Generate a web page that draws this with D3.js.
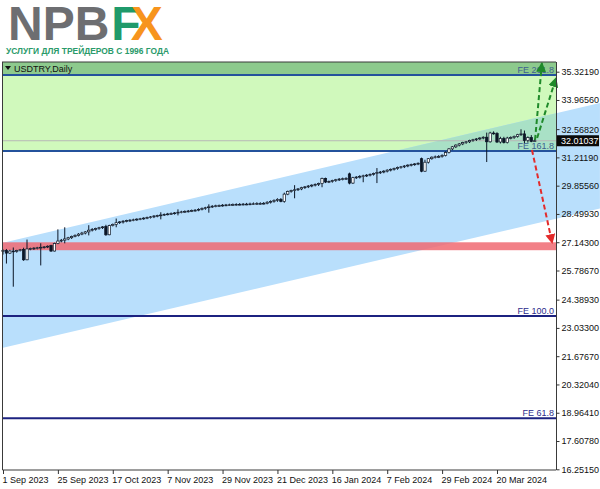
<!DOCTYPE html>
<html>
<head>
<meta charset="utf-8">
<script src="https://cdn.jsdelivr.net/npm/d3@7"></script>
<style>
  body { margin: 0; background: #fff; }
  svg { display: block; font-family: "Liberation Sans", Arial, sans-serif; }
</style>
</head>
<body>
<div id="chart"></div>
<script>
// daily bars [open, high, low, close], USDTRY, 1 Sep 2023 onwards
const bars = [
  [26.70,26.80,26.55,26.75],[26.75,26.82,26.12,26.62],[26.62,26.78,26.58,26.72],[26.72,26.89,25.01,26.70],
  [26.70,26.78,26.64,26.74],[26.74,26.82,26.70,26.78],[26.80,26.88,26.25,26.30],[26.30,27.27,26.28,26.82],
  [26.82,26.88,26.76,26.84],[26.84,26.90,26.78,26.86],[26.86,26.92,26.80,26.88],[26.88,27.09,26.03,26.90],
  [26.90,26.96,26.84,26.92],[26.92,26.99,26.86,26.95],[26.99,27.02,26.68,26.72],[26.72,27.12,26.70,27.08],
  [27.08,27.76,27.05,27.20],[27.20,27.30,27.14,27.24],[27.24,27.86,27.09,27.30],[27.30,27.40,27.24,27.36],
  [27.36,27.46,27.30,27.42],[27.42,27.52,27.38,27.47],[27.47,27.58,27.42,27.53],[27.53,27.64,27.48,27.58],
  [27.58,27.68,27.52,27.64],[27.64,27.96,27.47,27.72],[27.72,27.82,27.66,27.76],[27.76,27.84,27.70,27.80],
  [27.80,27.88,27.74,27.84],[27.84,27.92,27.78,27.88],[27.90,27.98,27.45,27.50],[27.50,27.98,27.48,27.94],
  [27.94,28.04,27.90,28.00],[28.00,28.28,27.86,28.08],[28.08,28.16,28.02,28.12],[28.12,28.20,28.04,28.15],
  [28.15,28.22,28.10,28.18],[28.18,28.25,28.12,28.20],[28.20,28.27,28.15,28.22],[28.22,28.29,28.17,28.25],
  [28.25,28.31,28.20,28.27],[28.27,28.34,28.22,28.30],[28.30,28.37,28.25,28.33],[28.33,28.40,28.28,28.36],
  [28.36,28.44,28.30,28.40],[28.40,28.46,28.34,28.42],[28.42,28.58,28.24,28.45],[28.45,28.52,28.40,28.48],
  [28.48,28.55,28.43,28.50],[28.50,28.57,28.45,28.52],[28.52,28.59,28.47,28.55],[28.55,28.72,28.43,28.58],
  [28.58,28.65,28.53,28.60],[28.60,28.67,28.55,28.62],[28.62,28.69,28.57,28.64],[28.64,28.71,28.59,28.66],
  [28.66,28.73,28.61,28.68],[28.68,28.77,28.63,28.72],[28.72,28.81,28.67,28.76],[28.76,28.84,28.70,28.80],
  [28.80,28.96,28.56,28.84],[28.84,28.92,28.79,28.87],[28.87,28.94,28.82,28.89],[28.89,28.95,28.84,28.90],
  [28.90,28.97,28.85,28.92],[28.92,28.98,28.87,28.93],[28.93,28.99,28.88,28.94],[28.94,29.00,28.89,28.95],
  [28.95,29.01,28.90,28.96],[28.96,29.02,28.91,28.96],[28.96,29.02,28.91,28.97],[28.97,29.03,28.92,28.97],
  [28.97,29.04,28.92,28.98],[28.98,29.05,28.93,28.99],[28.99,29.06,28.94,29.00],[29.00,29.06,28.95,29.00],
  [29.00,29.07,28.95,29.01],[29.01,29.11,28.96,29.06],[29.06,29.15,29.00,29.10],[29.10,29.20,29.04,29.15],
  [29.15,29.25,29.08,29.20],[29.20,29.26,29.06,29.10],[29.10,29.52,29.04,29.45],[29.45,29.62,29.40,29.58],
  [29.58,29.66,29.52,29.62],[29.62,29.88,29.25,29.66],[29.66,29.74,29.60,29.70],[29.70,29.80,29.64,29.76],
  [29.76,29.84,29.70,29.80],[29.80,29.88,29.74,29.84],[29.84,29.92,29.78,29.88],[29.88,29.96,29.82,29.92],
  [29.92,30.00,29.84,29.96],[29.96,30.24,29.78,30.20],[30.20,30.24,29.98,30.03],[30.03,30.10,29.98,30.06],
  [30.06,30.14,30.00,30.10],[30.10,30.18,30.04,30.14],[30.14,30.22,30.08,30.17],[30.17,30.24,30.11,30.19],
  [30.19,30.26,30.13,30.20],[30.42,30.48,29.92,29.98],[29.98,30.28,29.94,30.24],[30.24,30.31,30.18,30.27],
  [30.27,30.36,30.20,30.30],[30.30,30.38,30.02,30.33],[30.33,30.41,30.27,30.36],[30.36,30.44,30.30,30.40],
  [30.40,30.48,30.34,30.44],[30.44,30.70,29.98,30.48],[30.48,30.56,30.42,30.51],[30.51,30.60,30.45,30.55],
  [30.55,30.64,30.49,30.60],[30.60,30.68,30.54,30.64],[30.64,30.72,30.58,30.68],[30.68,30.77,30.62,30.73],
  [30.73,30.80,30.67,30.76],[30.76,30.84,30.70,30.80],[30.80,30.88,30.74,30.84],[30.84,30.91,30.78,30.87],
  [30.87,30.94,30.81,30.90],[30.90,30.97,30.84,30.93],[31.15,31.20,30.50,30.55],[30.55,31.10,30.52,30.98],
  [30.98,31.18,30.92,31.15],[31.15,31.26,31.10,31.22],[31.22,31.30,31.16,31.24],[31.24,31.32,31.18,31.25],
  [31.25,31.36,31.20,31.30],[31.30,31.50,31.26,31.45],[31.45,31.66,31.40,31.62],[31.62,31.76,31.56,31.72],
  [31.72,31.84,31.66,31.80],[31.80,31.90,31.74,31.86],[31.86,31.96,31.80,31.92],[31.92,32.00,31.86,31.96],
  [31.96,32.06,31.90,32.02],[32.02,32.10,31.96,32.06],[32.06,32.14,32.00,32.10],[32.10,32.18,32.04,32.14],
  [32.14,32.22,32.08,32.18],[32.18,32.40,30.99,31.96],[31.96,32.44,31.92,32.38],[32.38,32.46,32.30,32.36],
  [32.36,32.42,31.90,31.95],[31.95,32.20,31.88,32.12],[32.12,32.20,31.88,31.92],[31.92,32.20,31.88,32.14],
  [32.14,32.22,32.08,32.16],[32.16,32.26,32.10,32.22],[32.22,32.34,32.16,32.30],[32.30,32.56,32.24,32.34],
  [32.34,32.50,31.90,32.02],[32.02,32.22,31.92,32.16],[32.16,32.28,31.94,31.98],[31.98,32.10,31.96,32.01]
];

const yTicks = [16.2515, 17.6078, 18.9641, 20.3204, 21.6767, 23.0330, 24.3893, 25.7867,
                27.1430, 28.4993, 29.8556, 31.2119, 32.5682, 33.9656, 35.3219];
const xTickIdx = [0, 16, 32, 48, 64, 80, 96, 112, 128, 144];
const xTickLabels = ["1 Sep 2023", "25 Sep 2023", "17 Oct 2023", "7 Nov 2023", "29 Nov 2023",
                     "21 Dec 2023", "16 Jan 2024", "7 Feb 2024", "29 Feb 2024", "20 Mar 2024"];

const feLabels = ["FE 261.8", "FE 161.8", "FE 100.0", "FE 61.8"];
const fePrices = [35.16, 31.518, 23.61, 18.70];

// regression channel: [bar index, price] at both ends
const channelIdx = [-0.3, 174];
const channelUpper = [27.10, 33.82];
const channelLower = [22.07, 28.76];

const redZone = [26.76, 27.14];
const bidPrice = 32.01037;

// arrows: [startIdx, startPrice, endIdx, endPrice]
const greenArrows = [[155.1, 32.05, 157.1, 35.74], [155.7, 32.14, 161.2, 35.02]];
const redArrows = [[154.2, 31.57, 160.1, 27.10]];

const W = 600, H = 489;
const L = 2, R = 556, T = 62, B = 470;

const x = d3.scaleLinear().domain([0, 161.2]).range([3, 556]);
const y = d3.scaleLinear().domain([16.2515, 35.3219]).range([469.3, 71.7]);

const svg = d3.select("#chart").append("svg").attr("width", W).attr("height", H);
const defs = svg.append("defs");

defs.append("clipPath").attr("id", "chanClip")
  .append("rect").attr("x", L).attr("y", T).attr("width", W - L).attr("height", B - T);
defs.append("clipPath").attr("id", "greenClip")
  .append("rect").attr("x", L).attr("y", y(fePrices[0])).attr("width", R - L)
  .attr("height", y(fePrices[1]) - y(fePrices[0]));

[["arrGreen", "#1f8a2a"], ["arrRed", "#e32b2b"]].forEach(([id, c]) => {
  defs.append("marker").attr("id", id).attr("viewBox", "0 0 10 10")
    .attr("refX", 9).attr("refY", 5).attr("markerWidth", 5).attr("markerHeight", 5)
    .attr("markerUnits", "strokeWidth").attr("orient", "auto")
    .append("path").attr("d", "M0,0 L10,5 L0,10 z").attr("fill", c);
});

// logo
const logo = svg.append("text").attr("x", 8).attr("y", 40).attr("font-size", 48).attr("font-weight", "bold");
logo.append("tspan").attr("fill", "#6d6e71").text("NPB");
logo.append("tspan").attr("fill", "#1f9a6b").attr("dx", 2).text("F");
logo.append("tspan").attr("fill", "#f7941d").attr("dx", -10).text("X");
svg.append("text").attr("x", 6).attr("y", 54).attr("font-size", 9.5).attr("font-weight", "bold")
  .attr("fill", "#2a9a6a").attr("textLength", 163).attr("lengthAdjust", "spacingAndGlyphs")
  .text("УСЛУГИ ДЛЯ ТРЕЙДЕРОВ С 1996 ГОДА");

// green target zone
svg.append("rect").attr("x", L).attr("y", y(fePrices[0])).attr("width", R - L)
  .attr("height", y(fePrices[1]) - y(fePrices[0])).attr("fill", "#d0f9bc");

// channel
const chanPts = [
  [x(channelIdx[0]), y(channelUpper[0])], [x(channelIdx[1]), y(channelUpper[1])],
  [x(channelIdx[1]), y(channelLower[1])], [x(channelIdx[0]), y(channelLower[0])]
];
svg.append("polygon").attr("points", chanPts.map(p => p.join(",")).join(" "))
  .attr("fill", "#b9dffc").attr("clip-path", "url(#chanClip)");
svg.append("polygon").attr("points", chanPts.map(p => p.join(",")).join(" "))
  .attr("fill", "#a9e1c6").attr("clip-path", "url(#greenClip)");

// red support zone
svg.append("rect").attr("x", L).attr("y", y(redZone[1])).attr("width", R - L)
  .attr("height", y(redZone[0]) - y(redZone[1])).attr("fill", "#f06a72").attr("opacity", 0.85);

// header band
svg.append("rect").attr("x", L).attr("y", T).attr("width", R - L).attr("height", y(fePrices[0]) - T)
  .attr("fill", "#8dca8d");
svg.append("path").attr("d", "M5,66 L11,66 L8,70 z").attr("fill", "#111");
svg.append("text").attr("x", 14).attr("y", 72).attr("font-size", 9).attr("fill", "#111").text("USDTRY,Daily");

// FE levels
fePrices.forEach((p, k) => {
  svg.append("line").attr("x1", L).attr("x2", R).attr("y1", y(p)).attr("y2", y(p))
    .attr("stroke", k < 2 ? "#24529c" : "#1c2280").attr("stroke-width", 2);
  svg.append("text").attr("x", R - 2).attr("y", y(p) - 2).attr("text-anchor", "end")
    .attr("font-size", 9).attr("fill", k < 2 ? "#3d5f8f" : "#2c2c8c").text(feLabels[k]);
});

// bid line
svg.append("line").attr("x1", L).attr("x2", R).attr("y1", y(bidPrice)).attr("y2", y(bidPrice))
  .attr("stroke", "#b8b8b8").attr("stroke-width", 1);

// candles
const cg = svg.append("g");
cg.selectAll("line").data(bars).join("line")
  .attr("x1", (d, i) => x(i)).attr("x2", (d, i) => x(i))
  .attr("y1", d => y(d[1])).attr("y2", d => y(d[2]))
  .attr("stroke", "#0b1626").attr("stroke-width", 1);
cg.selectAll("rect").data(bars).join("rect")
  .attr("x", (d, i) => x(i) - 1.2).attr("width", 2.4)
  .attr("y", d => y(Math.max(d[0], d[3])))
  .attr("height", d => Math.max(Math.abs(y(d[0]) - y(d[3])), 0.8))
  .attr("fill", d => d[3] >= d[0] ? "#fff" : "#0b1626")
  .attr("stroke", "#0b1626").attr("stroke-width", 0.7);

// arrows
const arrows = greenArrows.map(a => ({ a, c: "#1f8a2a", m: "arrGreen" }))
  .concat(redArrows.map(a => ({ a, c: "#e32b2b", m: "arrRed" })));
svg.selectAll(".arrow").data(arrows).join("line").attr("class", "arrow")
  .attr("x1", d => x(d.a[0])).attr("y1", d => y(d.a[1]))
  .attr("x2", d => x(d.a[2])).attr("y2", d => y(d.a[3]))
  .attr("stroke", d => d.c).attr("stroke-width", 2).attr("stroke-dasharray", "5,3")
  .attr("marker-end", d => `url(#${d.m})`);

// frame
svg.append("path").attr("d", `M${L},${T} L${R},${T} M${L + 0.5},${T} L${L + 0.5},${B} L${R},${B} M${R + 0.5},${T} L${R + 0.5},${B}`)
  .attr("fill", "none").attr("stroke", "#3a3a3a").attr("stroke-width", 1);

// axes
const yAxis = svg.append("g").attr("transform", `translate(${R + 0.5},0)`)
  .call(d3.axisRight(y).tickValues(yTicks).tickSize(3).tickSizeOuter(0).tickFormat(d3.format(".5f")));
yAxis.select(".domain").remove();
yAxis.selectAll("text").attr("font-size", 9).attr("font-family", "Liberation Sans, Arial, sans-serif")
  .attr("fill", "#111").attr("x", 5);
yAxis.selectAll("line").attr("stroke", "#333");

const xAxis = svg.append("g").attr("transform", `translate(0,${B})`)
  .call(d3.axisBottom(x).tickValues(xTickIdx).tickSize(4).tickSizeOuter(0)
    .tickFormat((d, k) => xTickLabels[k]));
xAxis.select(".domain").remove();
xAxis.selectAll("text").attr("font-size", 9).attr("font-family", "Liberation Sans, Arial, sans-serif")
  .attr("fill", "#111").attr("text-anchor", "start").attr("x", -1);
xAxis.selectAll("line").attr("stroke", "#333");

// bid price tag
svg.append("rect").attr("x", R + 1).attr("y", y(bidPrice) - 5.5).attr("width", 42).attr("height", 11)
  .attr("fill", "#0a0a0a");
svg.append("text").attr("x", R + 5).attr("y", y(bidPrice) + 3.3).attr("font-size", 9)
  .attr("fill", "#fff").text(bidPrice.toFixed(5));
</script>
</body>
</html>
